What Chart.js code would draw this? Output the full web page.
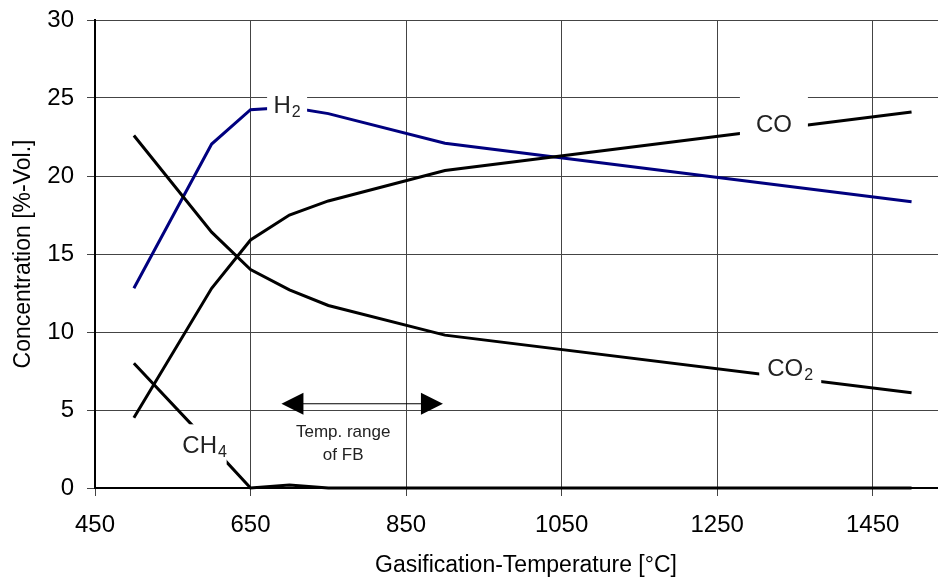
<!DOCTYPE html>
<html lang="en">
<head>
  <meta charset="UTF-8">
  <title>Gas composition vs gasification temperature</title>
  <script src="https://cdn.jsdelivr.net/npm/chart.js@4"></script>
  <style>
    html, body {
      margin: 0;
      padding: 0;
      background-color: #fff;
    }

    #chart-container {
      width: 938px;
      height: 582px;
    }
  </style>
</head>
<body>
  <div id="chart-container">
    <canvas id="gasChart"></canvas>
  </div>

  <script>
    // Gasification temperature [°C] and gas concentrations [%-Vol.]
    const temps = [500, 600, 650, 700, 750, 900, 1500];
    const h2  = [12.8, 22.05, 24.25, 24.4, 24.0, 22.1, 18.35];
    const co  = [4.5, 12.8, 15.9, 17.5, 18.4, 20.35, 24.1];
    const co2 = [22.6, 16.4, 14.0, 12.7, 11.7, 9.8, 6.1];
    const ch4 = [8.0, 2.7, 0, 0.2, 0, 0, 0];

    const xTicks = [450, 650, 850, 1050, 1250, 1450];
    const yTicks = [0, 5, 10, 15, 20, 25, 30];

    // fixed-bed temperature range marked by the arrow
    const fbRange = [700, 900];

    const FONT = "Arial, 'Liberation Sans', sans-serif";

    // in-line series labels (data coords of the text centre, white box in px)
    const seriesLabels = [
      { main: 'H',  sub: '2', x: 697,  y: 24.6, boxW: 40, boxH: 30 },
      { main: 'CO', sub: '',  x: 1323, y: 23.4, boxW: 68, boxH: 52 },
      { main: 'CO', sub: '2', x: 1344, y: 7.75, boxW: 62, boxH: 40 },
      { main: 'CH', sub: '4', x: 591,  y: 2.8,  boxW: 44, boxH: 40 }
    ];

    function toPoints(ys) {
      return temps.map((t, i) => ({ x: t, y: ys[i] }));
    }

    function drawSubText(ctx, item, cx, cy) {
      const big = 24, small = 16;
      ctx.font = big + 'px ' + FONT;
      const wMain = ctx.measureText(item.main).width;
      ctx.font = small + 'px ' + FONT;
      const wSub = item.sub ? ctx.measureText(item.sub).width + 1 : 0;
      const left = cx - (wMain + wSub) / 2;
      const base = cy + big * 0.36;
      ctx.fillStyle = '#222';
      ctx.textAlign = 'left';
      ctx.textBaseline = 'alphabetic';
      ctx.font = big + 'px ' + FONT;
      ctx.fillText(item.main, left, base);
      if (item.sub) {
        ctx.font = small + 'px ' + FONT;
        ctx.fillText(item.sub, left + wMain + 1, base + 4);
      }
    }

    const annotationPlugin = {
      id: 'annotations',
      afterDatasetsDraw(chart) {
        const ctx = chart.ctx;
        const xs = chart.scales.x, ys = chart.scales.y;
        ctx.save();

        // series labels sitting on white boxes that cut the lines
        seriesLabels.forEach(item => {
          const cx = xs.getPixelForValue(item.x);
          const cy = ys.getPixelForValue(item.y);
          ctx.fillStyle = '#fff';
          ctx.fillRect(cx - item.boxW / 2, cy - item.boxH / 2, item.boxW, item.boxH);
          drawSubText(ctx, item, cx, cy);
        });

        // double arrow for the fixed-bed temperature range
        const ay = ys.getPixelForValue(5.4);
        const x1 = xs.getPixelForValue(fbRange[0]) - 8;
        const x2 = xs.getPixelForValue(fbRange[1]) - 2;
        ctx.strokeStyle = '#000';
        ctx.lineWidth = 1;
        ctx.beginPath();
        ctx.moveTo(x1 + 10, ay);
        ctx.lineTo(x2 - 10, ay);
        ctx.stroke();
        ctx.fillStyle = '#000';
        ctx.beginPath();
        ctx.moveTo(x1, ay);
        ctx.lineTo(x1 + 22, ay - 11);
        ctx.lineTo(x1 + 22, ay + 11);
        ctx.closePath();
        ctx.fill();
        ctx.beginPath();
        ctx.moveTo(x2, ay);
        ctx.lineTo(x2 - 22, ay - 11);
        ctx.lineTo(x2 - 22, ay + 11);
        ctx.closePath();
        ctx.fill();

        const tx = (x1 + x2) / 2 - 19;
        ctx.fillStyle = '#222';
        ctx.font = '17px ' + FONT;
        ctx.textAlign = 'center';
        ctx.textBaseline = 'middle';
        ctx.fillText('Temp. range', tx, ay + 29);
        ctx.fillText('of FB', tx, ay + 52);
        ctx.restore();
      },
      afterDraw(chart) {
        const ctx = chart.ctx;
        ctx.save();
        ctx.fillStyle = '#000';
        ctx.font = '23px ' + FONT;
        ctx.textAlign = 'center';
        ctx.textBaseline = 'middle';
        ctx.fillText('Gasification-Temperature [°C]', 526, 566);
        ctx.translate(24, 254);
        ctx.rotate(-Math.PI / 2);
        ctx.fillText('Concentration [%-Vol.]', 0, 0);
        ctx.restore();
      }
    };

    const lineStyle = {
      borderWidth: 3,
      pointRadius: 0,
      tension: 0,
      fill: false,
      clip: false
    };

    const ctx = document.getElementById('gasChart').getContext('2d');
    const chart = new Chart(ctx, {
      type: 'line',
      data: {
        datasets: [
          { label: 'CH4', data: toPoints(ch4), borderColor: '#000', ...lineStyle },
          { label: 'CO2', data: toPoints(co2), borderColor: '#000', ...lineStyle },
          { label: 'CO',  data: toPoints(co),  borderColor: '#000', ...lineStyle },
          { label: 'H2',  data: toPoints(h2),  borderColor: '#00007f', ...lineStyle }
        ]
      },
      options: {
        responsive: true,
        maintainAspectRatio: false,
        animation: false,
        layout: {
          padding: { top: 20, right: 0, left: 0, bottom: 0 }
        },
        plugins: {
          legend: { display: false },
          tooltip: { enabled: false }
        },
        scales: {
          x: {
            type: 'linear',
            min: 450,
            max: 1534,
            afterBuildTicks(scale) {
              scale.ticks = xTicks.map(v => ({ value: v }));
            },
            afterFit(scale) {
              scale.height = 94;
            },
            grid: {
              color: '#444',
              lineWidth: 1,
              tickLength: 8,
              drawTicks: true
            },
            border: { display: true, color: '#000', width: 2 },
            ticks: {
              color: '#000',
              padding: 15,
              maxRotation: 0,
              callback: v => String(v),
              font: { size: 24, family: FONT }
            }
          },
          y: {
            min: 0,
            max: 30,
            afterBuildTicks(scale) {
              scale.ticks = yTicks.map(v => ({ value: v }));
            },
            afterFit(scale) {
              scale.width = 95;
            },
            grid: {
              color: '#444',
              lineWidth: 1,
              tickLength: 8,
              drawTicks: true
            },
            border: { display: true, color: '#000', width: 2 },
            ticks: {
              color: '#000',
              padding: 13,
              callback: v => String(v),
              font: { size: 24, family: FONT, lineHeight: 0.5 }
            }
          }
        }
      },
      plugins: [annotationPlugin]
    });
  </script>
</body>
</html>
